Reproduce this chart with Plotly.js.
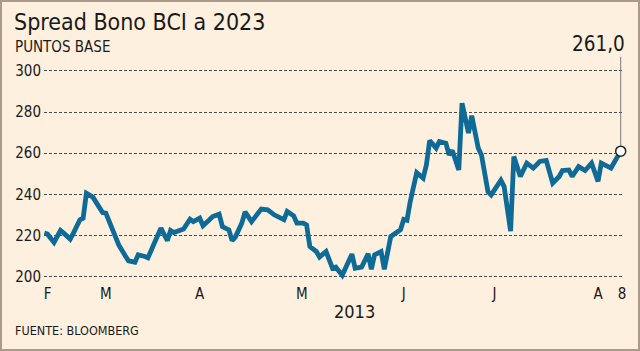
<!DOCTYPE html>
<html><head><meta charset="utf-8">
<script src="https://cdn.plot.ly/plotly-3.0.1.min.js"></script>
<style>
html,body{margin:0;padding:0;background:#fdf0de;}
#wrap{position:relative;width:640px;height:351px;}
#chart{width:640px;height:351px;}
#frame{position:absolute;left:0;top:0;width:640px;height:351px;box-sizing:border-box;border:2px solid #ab998b;pointer-events:none;}
</style>
</head><body><div id="wrap"><div id="chart"></div><div id="frame"></div></div>
<script>
const dates = [
'2013-02-11','2013-02-12','2013-02-14','2013-02-16','2013-02-17','2013-02-19','2013-02-20','2013-02-22','2013-02-23','2013-02-24',
'2013-02-26','2013-02-27','2013-03-01','2013-03-02','2013-03-04','2013-03-05','2013-03-06','2013-03-08','2013-03-09','2013-03-11',
'2013-03-12','2013-03-14','2013-03-15','2013-03-17','2013-03-19','2013-03-21','2013-03-22','2013-03-23','2013-03-25','2013-03-26',
'2013-03-28','2013-03-29','2013-03-31','2013-04-01','2013-04-03','2013-04-04','2013-04-06','2013-04-07','2013-04-09','2013-04-10',
'2013-04-11','2013-04-13','2013-04-14','2013-04-16','2013-04-19','2013-04-21','2013-04-23','2013-04-26','2013-04-27','2013-04-29',
'2013-04-30','2013-05-02','2013-05-03','2013-05-04','2013-05-06','2013-05-07','2013-05-09','2013-05-11','2013-05-12','2013-05-14',
'2013-05-17','2013-05-18','2013-05-20','2013-05-22','2013-05-23','2013-05-24','2013-05-26','2013-05-27','2013-05-29','2013-05-30',
'2013-06-01','2013-06-02','2013-06-03','2013-06-04','2013-06-06','2013-06-08','2013-06-09','2013-06-10','2013-06-12','2013-06-13',
'2013-06-15','2013-06-16','2013-06-17','2013-06-19','2013-06-20','2013-06-22','2013-06-23','2013-06-25','2013-06-26','2013-06-28',
'2013-06-29','2013-07-02','2013-07-03','2013-07-05','2013-07-06','2013-07-08','2013-07-10','2013-07-12','2013-07-14','2013-07-16',
'2013-07-18','2013-07-20','2013-07-21','2013-07-23','2013-07-24','2013-07-26','2013-07-28','2013-07-30','2013-08-01','2013-08-02',
'2013-08-04','2013-08-05','2013-08-08'
];
const spread = [
221.2,220.7,216.7,222.5,221.2,218.3,221.2,227.7,228.5,240.6,
238.7,235.8,231.2,230.9,223.6,220.4,215.5,210.2,207.8,207.1,
210.7,209.9,209.2,216.4,223.6,217.6,222.5,221.5,222.5,223.2,
228.0,226.8,228.5,224.8,227.7,229.3,230.4,224.4,222.8,217.6,
219.3,226.1,231.5,226.8,232.9,232.5,230.1,227.7,231.7,229.6,
226.1,226.1,225.2,214.7,212.3,209.6,212.3,204.2,204.7,200.8,
211.0,204.2,204.7,211.2,203.7,210.7,212.3,203.7,219.6,220.9,
222.9,227.9,227.5,236.5,250.6,247.9,254.4,266.2,262.5,265.7,
264.9,259.2,261.3,251.9,284.3,269.8,278.2,262.5,259.2,241.4,
239.8,246.9,243.8,222.2,258.4,248.7,255.2,252.8,256.0,256.5,
245.5,248.7,251.6,251.9,248.7,253.5,251.6,255.2,246.3,255.2,
253.5,252.8,261.0
];
const yTicks = [200, 220, 240, 260, 280, 300];
const xTickDates = ['2013-02-12','2013-03-02','2013-03-31','2013-05-01 12:00','2013-06-02','2013-06-30','2013-08-01','2013-08-08 10:00'];
const xTickLabels = ['F','M','A','M','J','J','A','8'];
const titleText = 'Spread Bono BCI a 2023';
const unitText = 'PUNTOS BASE';
const yearText = '2013';
const sourceText = 'FUENTE: BLOOMBERG';

const W = 640, H = 351;
const M = {l: 44, r: 17, t: 42, b: 68};
const pw = W - M.l - M.r, ph = H - M.t - M.b;
const px = x => (x - M.l) / pw;
const py = y => (H - M.b - y) / ph;
const FONT = '"DejaVu Sans Condensed", "DejaVu Sans", sans-serif';
const INK = '#1a1a1a';

const lastDate = dates[dates.length - 1];
const lastValue = spread[spread.length - 1];
const leaderTop = 306.8;
const lastLabel = lastValue.toFixed(1).replace('.', ',');

const traces = [
  {x: [lastDate, lastDate], y: [lastValue, leaderTop], mode: 'lines',
   line: {color: '#7a7a7a', width: 1}, hoverinfo: 'skip', showlegend: false},
  {x: dates, y: spread, mode: 'lines', line: {color: '#0e6a97', width: 4.8},
   hoverinfo: 'skip', showlegend: false},
  {x: [lastDate], y: [lastValue], mode: 'markers', cliponaxis: false,
   marker: {size: 10, color: '#ffffff', line: {color: '#222222', width: 1.5}},
   hoverinfo: 'skip', showlegend: false}
];

const layout = {
  width: W, height: H,
  margin: M,
  paper_bgcolor: '#fdf0de', plot_bgcolor: '#fdf0de',
  showlegend: false,
  xaxis: {
    type: 'date', range: ['2013-02-10 21:50', '2013-08-08 17:00'],
    showgrid: false, zeroline: false, showline: false, ticks: '',
    tickmode: 'array', tickvals: xTickDates, ticktext: xTickLabels,
    tickfont: {family: FONT, size: 15, color: INK}, fixedrange: true
  },
  yaxis: {
    range: [197, 314], tickmode: 'array', tickvals: yTicks,
    showgrid: true, gridcolor: '#4a4a4a', gridwidth: 1, griddash: '3px,2px',
    zeroline: false, showline: false, ticks: '', ticklabelstandoff: 2,
    tickfont: {family: FONT, size: 15, color: INK}, fixedrange: true
  },
  annotations: [
    {xref: 'paper', yref: 'paper', x: px(12), y: py(22), xanchor: 'left', yanchor: 'middle',
     text: titleText, showarrow: false, font: {family: FONT, size: 23, color: INK}},
    {xref: 'paper', yref: 'paper', x: px(13), y: py(47), xanchor: 'left', yanchor: 'middle',
     text: unitText, showarrow: false, font: {family: FONT, size: 15, color: INK}},
    {xref: 'paper', yref: 'paper', x: px(354), y: py(311), xanchor: 'center', yanchor: 'middle',
     text: yearText, showarrow: false, font: {family: FONT, size: 18, color: INK}},
    {xref: 'paper', yref: 'paper', x: px(13), y: py(330), xanchor: 'left', yanchor: 'middle',
     text: sourceText, showarrow: false, font: {family: FONT, size: 12.5, color: INK}},
    {xref: 'x', yref: 'paper', x: lastDate, y: py(44), xanchor: 'right', yanchor: 'middle', xshift: 6,
     text: lastLabel, showarrow: false, font: {family: FONT, size: 20.5, color: INK}}
  ]
};

Plotly.newPlot('chart', traces, layout, {staticPlot: true, displayModeBar: false});
</script>
</body></html>
